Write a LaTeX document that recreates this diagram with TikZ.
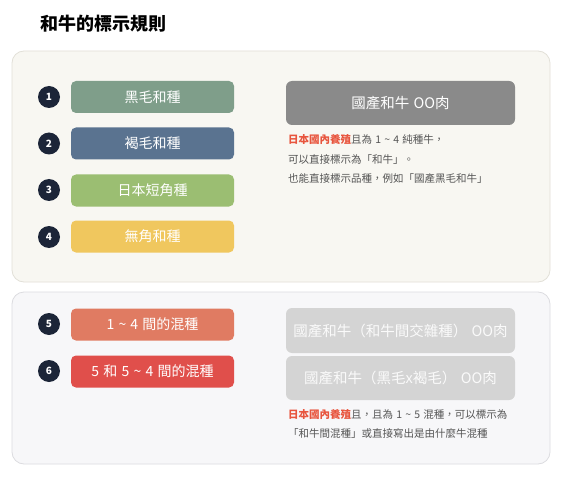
\documentclass[tikz,border=0pt]{standalone}
\usepackage{fontspec}
\setmainfont{Noto Sans CJK TC}
\newcommand{\gp}{\hspace{0.3em}}
\newcommand{\tl}{\gp\textasciitilde\gp}
\definecolor{panelA}{HTML}{F8F7F2}
\definecolor{panelAb}{HTML}{E2E0D8}
\definecolor{panelB}{HTML}{F7F7F9}
\definecolor{panelBb}{HTML}{DCDCE0}
\definecolor{navy}{HTML}{1C2538}
\definecolor{cOne}{HTML}{7F9E8A}
\definecolor{cTwo}{HTML}{5A7390}
\definecolor{cThree}{HTML}{9BBE72}
\definecolor{cFour}{HTML}{F0C75E}
\definecolor{cFive}{HTML}{E07B62}
\definecolor{cSix}{HTML}{E04F4B}
\definecolor{grayA}{HTML}{8A8A8A}
\definecolor{grayB}{HTML}{D4D4D4}
\definecolor{txt}{HTML}{555555}
\definecolor{hl}{HTML}{E8553E}
\begin{document}
\begin{tikzpicture}[x=1pt,y=-1pt,
  panel/.style={draw=#1, line width=0.8pt, rounded corners=12pt},
  badge/.style={circle, fill=navy, minimum size=22pt, inner sep=0pt, text=white, font=\fontsize{10}{10}\selectfont\bfseries},
  bar/.style={fill=#1, rounded corners=5pt, minimum width=163pt, minimum height=32pt, inner sep=0pt, text=white, font=\fontsize{14}{14}\selectfont},
  label/.style={fill=#1, rounded corners=6pt, minimum width=229pt, inner sep=0pt, text=white, font=\fontsize{14.5}{14.5}\selectfont},
  note/.style={anchor=west, inner sep=0pt, text=txt, font=\fontsize{10.5}{10.5}\selectfont}
]
\useasboundingbox (0,0) rectangle (561,478);
\fill[white] (0,0) rectangle (561,478);
\node[anchor=west, inner sep=0pt, font=\fontsize{18}{18}\selectfont\bfseries] (title) at (40,24) {和牛的標示規則};

\filldraw[panel=panelAb, fill=panelA] (12,51) rectangle (550,282);
\filldraw[panel=panelBb, fill=panelB] (12,292) rectangle (550,464);

\node[badge] (b1) at (49,97) {1};
\node[badge] (b2) at (49,143.5) {2};
\node[badge] (b3) at (49,190) {3};
\node[badge] (b4) at (49,237) {4};
\node[bar=cOne] (r1) at (152.5,97) {黑毛和種};
\node[bar=cTwo] (r2) at (152.5,143.5) {褐毛和種};
\node[bar=cThree] (r3) at (152.5,190.5) {日本短角種};
\node[bar=cFour] (r4) at (152.5,236.5) {無角和種};

\node[label=grayA, minimum height=44pt] (g1) at (400.5,103) {國產和牛\gp OO肉};
\node[note] (n1) at (288,140) {{\color{hl}\bfseries 日本國內養殖}且為\gp 1\tl 4\gp 純種牛，};
\node[note] (n2) at (288,160) {可以直接標示為「和牛」。};
\node[note] (n3) at (288,179) {也能直接標示品種，例如「國產黑毛和牛」};

\node[badge] (b5) at (49,324) {5};
\node[badge] (b6) at (49,371) {6};
\node[bar=cFive] (r5) at (152.5,324.5) {1\tl 4\gp 間的混種};
\node[bar=cSix] (r6) at (152.5,371.5) {5\gp 和\gp 5\tl 4\gp 間的混種};

\node[label=grayB, minimum height=45pt, text=white!96!gray] (g2) at (400.5,330.5) {國產和牛（和牛間交雜種）\gp OO肉};
\node[label=grayB, minimum height=44pt, text=white!96!gray] (g3) at (400.5,378) {國產和牛（黑毛x褐毛）\gp OO肉};
\node[note] (n4) at (288,415) {{\color{hl}\bfseries 日本國內養殖}且，且為\gp 1\tl 5\gp 混種，可以標示為};
\node[note] (n5) at (288,434) {「和牛間混種」或直接寫出是由什麼牛混種};
\end{tikzpicture}
\end{document}
